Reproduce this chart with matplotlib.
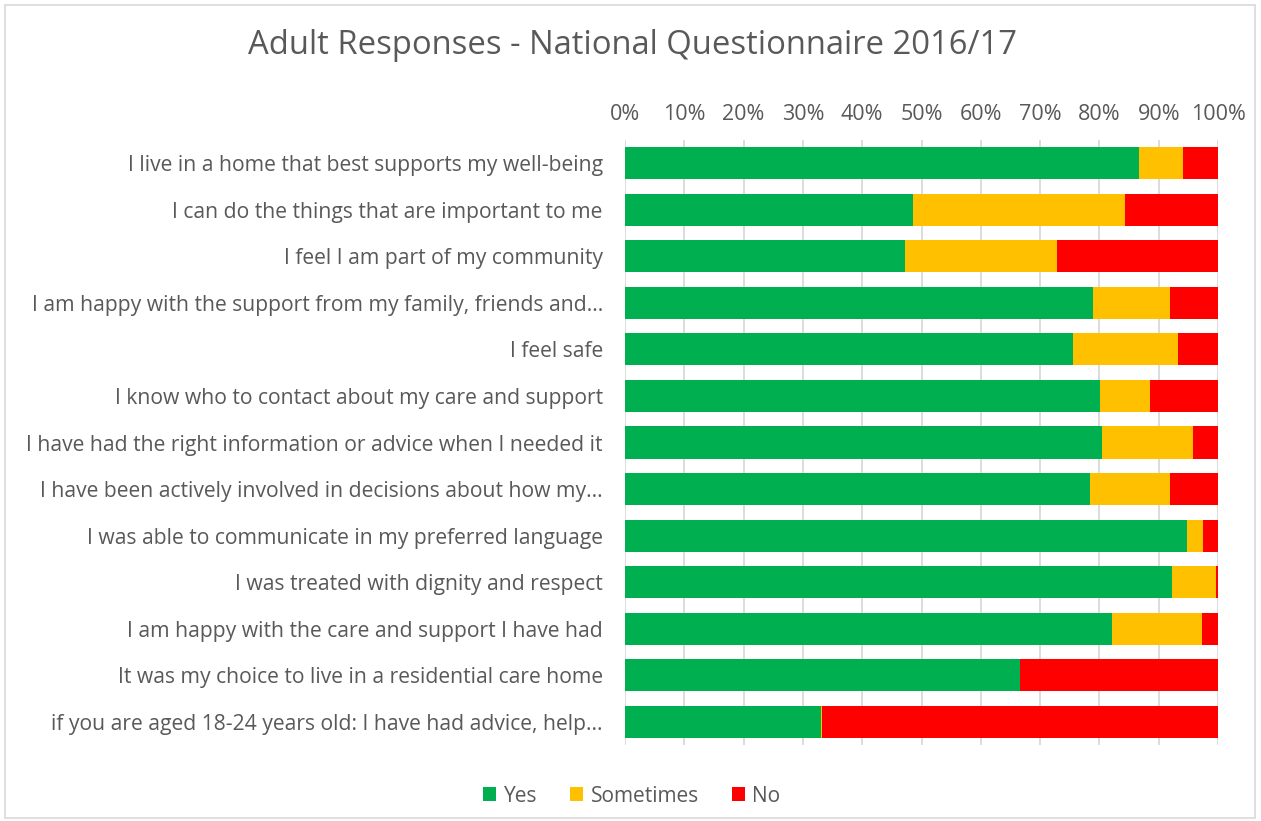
import matplotlib
matplotlib.use("Agg")
import matplotlib.pyplot as plt
from matplotlib.ticker import PercentFormatter
from matplotlib.patches import Rectangle

plt.rcParams['font.family'] = ['Open Sans', 'DejaVu Sans']

# questions, top to bottom
perguntas = [
    "I live in a home that best supports my well-being",
    "I can do the things that are important to me",
    "I feel I am part of my community",
    "I am happy with the support from my family, friends and...",
    "I feel safe",
    "I know who to contact about my care and support",
    "I have had the right information or advice when I needed it",
    "I have been actively involved in decisions about how my...",
    "I was able to communicate in my preferred language",
    "I was treated with dignity and respect",
    "I am happy with the care and support I have had",
    "It was my choice to live in a residential care home",
    "if you are aged 18-24 years old: I have had advice, help...",
]

# percentages
sim = [86.6, 48.6, 47.2, 78.9, 75.5, 80.1, 80.4, 78.4, 94.7, 92.2, 82.1, 66.6, 33.1]
as_vezes = [7.5, 35.8, 25.6, 13.0, 17.7, 8.4, 15.3, 13.5, 2.7, 7.4, 15.2, 0.0, 0.2]
nao = [5.9, 15.6, 27.2, 8.1, 6.8, 11.5, 4.3, 8.1, 2.6, 0.4, 2.7, 33.4, 66.7]

series = ["Yes", "Sometimes", "No"]
cores = ["#00B050", "#FFC000", "#FF0000"]
texto = "#595959"

W, H = 1261, 821
fig = plt.figure(figsize=(W / 100, H / 100), dpi=100)
fig.patches.append(Rectangle((5 / W, 3 / H), 1250 / W, 813 / H, transform=fig.transFigure,
                             fill=False, edgecolor="#D9D9D9", linewidth=1.2))

ax = fig.add_axes([625 / W, 1 - 745 / H, 593 / W, 605 / H])

y = list(range(len(perguntas)))
esquerda = [0.0] * len(perguntas)
for nome, valores, cor in zip(series, [sim, as_vezes, nao], cores):
    v = [x / 100 for x in valores]
    ax.barh(y, v, left=esquerda, height=0.69, color=cor, label=nome, zorder=3)
    esquerda = [a + b for a, b in zip(esquerda, v)]

ax.set_ylim(len(perguntas) - 0.5, -0.5)
ax.set_xlim(0, 1)
ax.set_yticks(y)
ax.set_yticklabels(perguntas)
ax.set_xticks([i / 10 for i in range(11)])
ax.xaxis.set_major_formatter(PercentFormatter(1.0, decimals=0))
ax.xaxis.tick_top()
ax.tick_params(axis="both", length=0, labelsize=15.2, colors=texto)
ax.tick_params(axis="x", pad=11, labelsize=15.5)
ax.tick_params(axis="y", pad=16)
ax.grid(axis="x", color="#D9D9D9", linewidth=1.3, zorder=0)
for s in ax.spines.values():
    s.set_visible(False)

fig.text(632 / W, 1 - 46 / H, "Adult Responses - National Questionnaire 2016/17",
         ha="center", va="center", fontsize=23.6, color=texto)

fig.legend(loc="center", bbox_to_anchor=(632 / W, 1 - 796 / H), ncol=3, frameon=False,
           fontsize=15, labelcolor=texto, handlelength=0.62, handleheight=0.62,
           handletextpad=0.35, columnspacing=1.6)

fig.savefig("out.png", dpi=100)
